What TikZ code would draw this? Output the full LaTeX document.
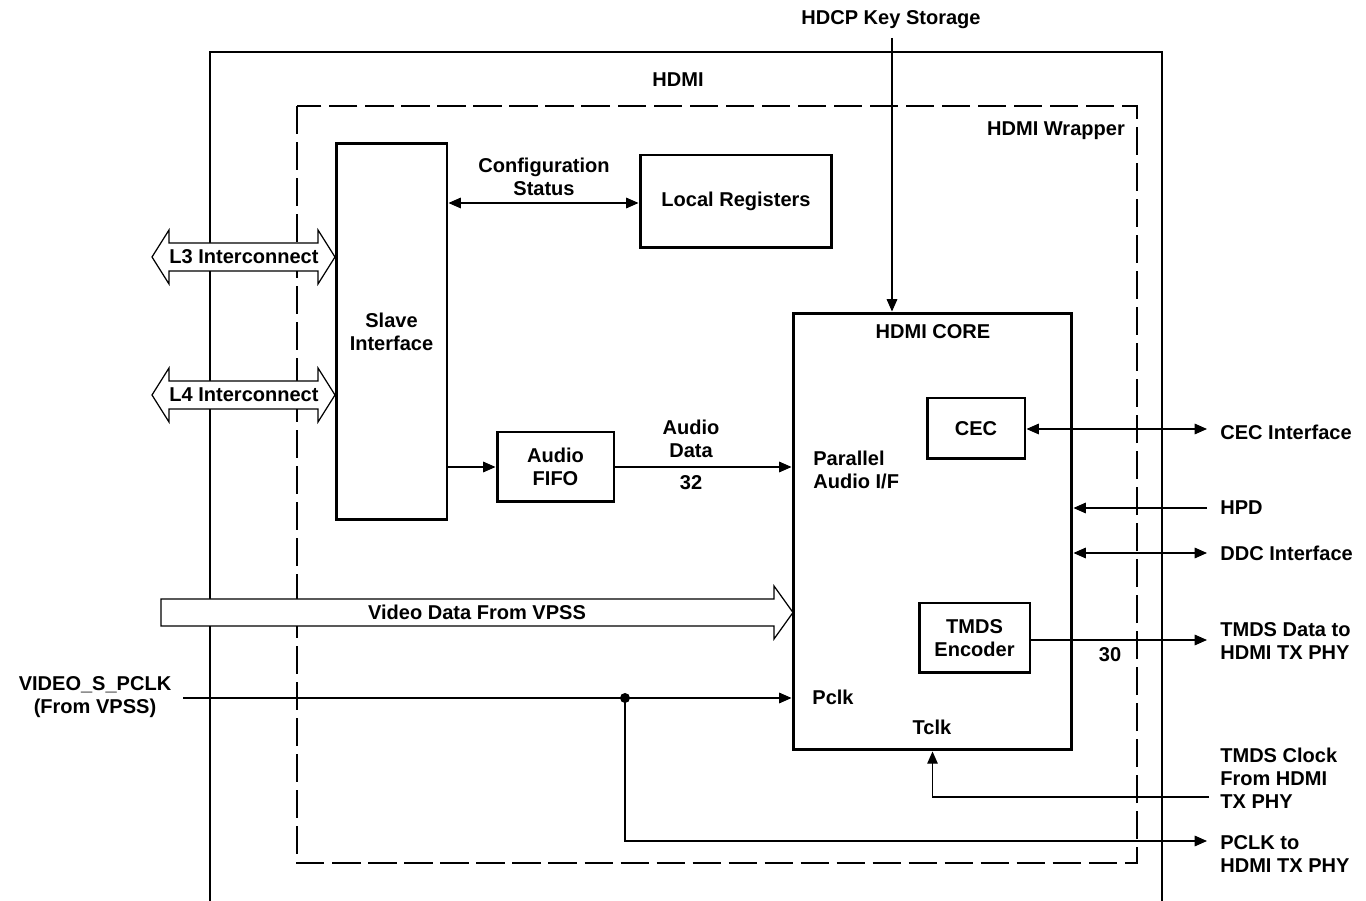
\documentclass[tikz,border=0pt]{standalone}
\usepackage{fontspec}
\setmainfont{Liberation Sans}
\usetikzlibrary{arrows.meta}

\begin{document}
\begin{tikzpicture}[x=0.02cm, y=-0.02cm, font=\bfseries\fontsize{11.4}{13}\selectfont,
  >={Triangle[length=7pt,width=6pt]},
  conn/.style={line width=0.7pt},
  blk/.style={draw, line width=1.7pt, align=center, inner sep=0pt},
  fat/.style={draw, line width=0.7pt, fill=white},
  lbl/.style={align=left, anchor=west, inner sep=0pt}]
\useasboundingbox (0,0) rectangle (1366,901);
% HDMI and wrapper outlines
\draw[line width=1.5pt] (210,901) |- (1162,52) -- (1162,901);
\node (hdmi) at (678,80) {HDMI};
\draw[line width=0.7pt, dash pattern=on 16pt off 4.5pt] (297,106) rectangle (1137,863);
\node (wrap) at (1056,131) {HDMI Wrapper};
% interconnect arrows
\draw[fat] (152,257) -- (169,230) -- (169,243) -- (318,243) -- (318,230) -- (335,257) -- (318,284) -- (318,271) -- (169,271) -- (169,284) -- cycle;
\node (l3) at (244,257) {L3 Interconnect};
\draw[fat] (152,395) -- (169,368) -- (169,381) -- (318,381) -- (318,368) -- (335,395) -- (318,422) -- (318,409) -- (169,409) -- (169,422) -- cycle;
\node (l4) at (244,395) {L4 Interconnect};
% video data
\draw[fat] (161,599) -- (774,599) -- (774,586) -- (793,612.5) -- (774,639) -- (774,626) -- (161,626) -- cycle;
\node (vdata) at (477,612) {Video Data From VPSS};
% blocks
\node[blk, minimum width=2.22cm, minimum height=7.54cm] (slave) at (391.5,331.5) {Slave\\Interface};
\node[blk, minimum width=3.84cm, minimum height=1.86cm] (regs) at (736,201.5) {Local Registers};
\node[blk, minimum width=2.34cm, minimum height=1.4cm] (fifo) at (555.5,467) {Audio\\FIFO};
\node[blk, minimum width=5.58cm, minimum height=8.74cm] (core) at (932.5,531.5) {};
\node (corel) at (933,332) {HDMI CORE};
\node[blk, minimum width=1.96cm, minimum height=1.22cm] (cec) at (976,428.5) {CEC};
\node[blk, minimum width=2.22cm, minimum height=1.4cm] (tmds) at (974.5,638) {TMDS\\Encoder};
\node[lbl] (paud) at (813,470) {Parallel\\Audio I/F};
\node (pclk) at (833,697) {Pclk};
\node (tclk) at (932,727) {Tclk};
% configuration path
\node[align=center] (cfg) at (544,177) {Configuration\\Status};
\draw[conn, <->] (slave.east |- 0,203) -- (regs.west |- 0,203);
% audio path
\draw[conn, ->] (slave.east |- fifo.west) -- (fifo.west);
\node[align=center] (adata) at (691,439) {Audio\\Data};
\node (a32) at (691,483) {32};
\draw[conn, ->] (fifo.east) -- (fifo.east -| core.west);
% HDCP key
\node (hdcp) at (891,20) {HDCP Key Storage};
\coordinate (hdcpin) at (892,38);
\draw[conn, ->] (hdcpin) -- (hdcpin |- core.north);
% right side pins
\coordinate (cecout) at (1207,429);
\coordinate (hpdin) at (1207,508);
\coordinate (ddcout) at (1207,553);
\coordinate (tdout) at (1207,640);
\coordinate (tckin) at (1209,797);
\coordinate (pckout) at (1207,841);
\draw[conn, <->] (cec.east |- cecout) -- (cecout);
\draw[conn, ->] (hpdin) -- (hpdin -| core.east);
\draw[conn, <->] (core.east |- ddcout) -- (ddcout);
\draw[conn, ->] (tmds.east |- tdout) -- (tdout);
\node (t30) at (1110,655) {30};
\draw[conn, ->] (tckin) -| (core.south);
\node[lbl] (cecl) at (1220,432) {CEC Interface};
\node[lbl] (hpdl) at (1220,508) {HPD};
\node[lbl] (ddcl) at (1220,553) {DDC Interface};
\node[lbl] (tdl) at (1220,641) {TMDS Data to\\HDMI TX PHY};
\node[lbl] (tckl) at (1220,778) {TMDS Clock\\From HDMI\\TX PHY};
\node[lbl] (pckl) at (1220,854) {PCLK to\\HDMI TX PHY};
% pixel clock
\node[align=center] (vpclk) at (95,697) {VIDEO\_S\_PCLK\\(From VPSS)};
\coordinate (pclkin) at (183,698);
\coordinate (split) at (625,698);
\draw[conn, ->] (pclkin) -- (pclkin -| core.west);
\fill (split) circle (5);
\draw[conn, ->] (split) |- (pckout);
\end{tikzpicture}
\end{document}
